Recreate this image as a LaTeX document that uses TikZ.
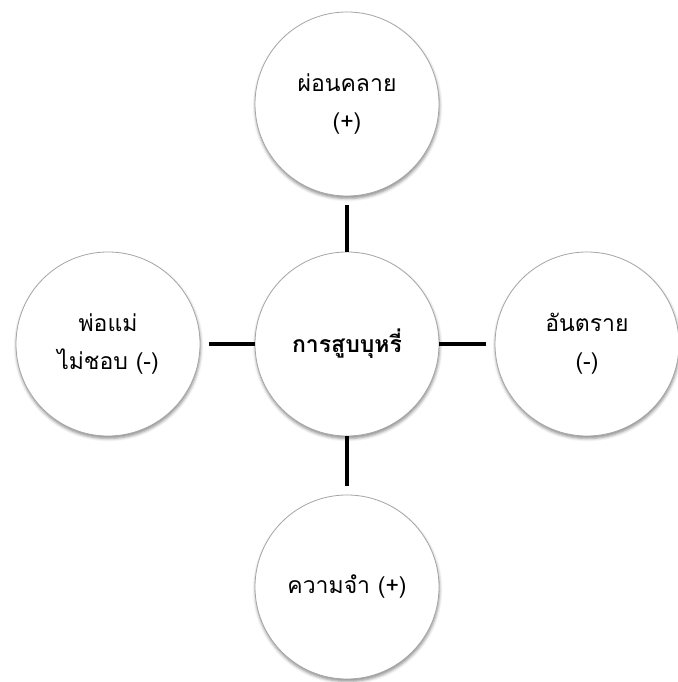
\documentclass[tikz,border=0pt]{standalone}
\usepackage{fontspec}
\newfontfamily\thaifont[Script=Thai]{Loma}
\usetikzlibrary{shadows.blur}
\begin{document}
\begin{tikzpicture}[x=1pt,y=1pt,
  bubble/.style={circle, draw=black!35, line width=0.8pt, fill=white,
    minimum size=184pt, inner sep=0pt, align=center,
    font=\thaifont\fontsize{23}{38}\selectfont,
    blur shadow={shadow xshift=0.5pt, shadow yshift=-2.5pt,
      shadow blur radius=3pt, shadow opacity=45}},
  link/.style={line width=4.5pt, black, shorten >=9pt}]
\useasboundingbox (0,0) rectangle (677,682);
% centre topic and the four surrounding ideas
\node[bubble, font=\thaifont\bfseries\fontsize{23}{38}\selectfont] (c) at (347,338) {การสูบบุหรี่};
\node[bubble] (t) at (347,578) {ผ่อนคลาย\\(+)};
\node[bubble] (l) at (108,338) {พ่อแม่\\ไม่ชอบ (-)};
\node[bubble] (r) at (587,338) {อันตราย\\(-)};
\node[bubble] (b) at (347,95) {ความจำ (+)};
% spokes from the centre
\draw[link] (c.north) -- (t.south);
\draw[link] (c.south) -- (b.north);
\draw[link] (c.west) -- (l.east);
\draw[link] (c.east) -- (r.west);
\end{tikzpicture}
\end{document}
